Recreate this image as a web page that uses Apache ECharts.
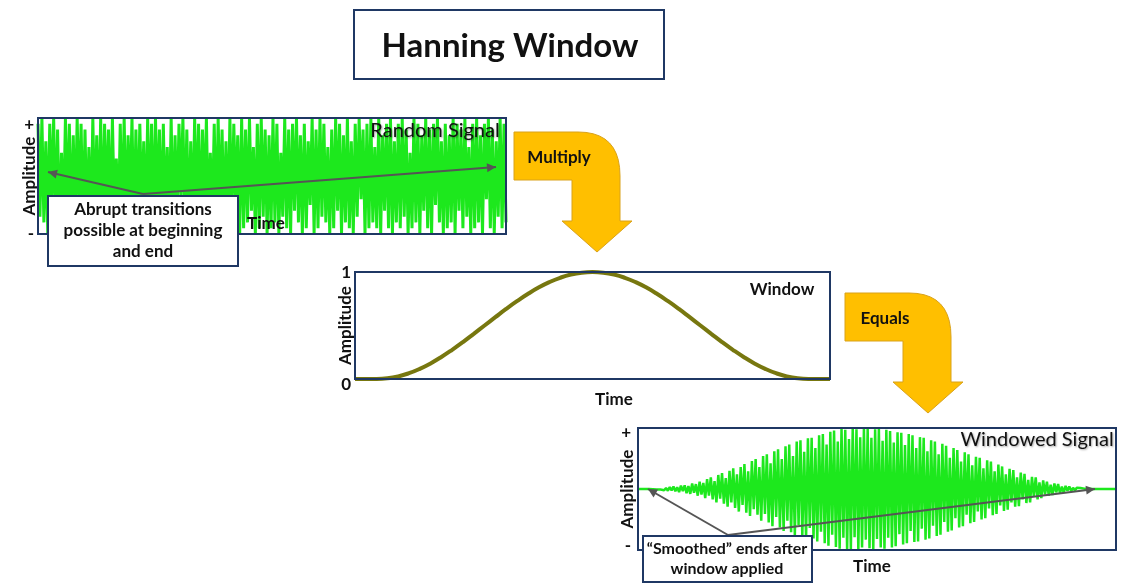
<!DOCTYPE html>
<html>
<head>
<meta charset="utf-8">
<script src="https://cdn.jsdelivr.net/npm/echarts@6/dist/echarts.min.js"></script>
<style>
html,body{margin:0;padding:0;background:#fff}
#main{width:1143px;height:587px}
</style>
</head>
<body>
<div id="main"></div>
<script>
// random signal (-10..10)
var randomSignal = [
  9,-7,10,-8,6,-10,9,-5,10,-9,8,-10,4,-9,10,-7,9,-10,7,-8,10,-6,9,-10,8,-9,5,-10,10,-8,
  7,-9,10,-10,9,-6,8,-9,10,-7,3,-10,9,-8,10,-9,7,-5,10,-10,8,-9,9,-7,6,-10,10,-8,9,-9,
  10,-6,8,-10,9,-8,5,-9,10,-10,7,-8,9,-4,10,-9,8,-10,6,-9,10,-7,9,-10,8,-6,10,-9,4,-8,
  9,-10,10,-7,8,-9,6,-10,10,-8,9,-5,7,-10,10,-9,8,-8,10,-6,5,-10,9,-9,10,-7,8,-10,7,-9,
  10,-8,9,-10,4,-7,10,-9,8,-10,9,-6,10,-8,7,-10,9,-9,6,-5,10,-10,8,-9,10,-7,9,-8,5,-10,
  8,-9,10,-6,9,-10,7,-8,10,-9,6,-10,9,-7,10,-4,8,-10,9,-9,10,-8,5,-9,10,-10,7,-6,9,-9,
  10,-10,6,-8,9,-9,10,-7,8,-10,4,-9,10,-8,9,-10,7,-6,10,-9,8,-10,9,-5,10,-8,6,-10,9,-9,
  7,-8,10,-10,9,-6,8,-9,10,-7,5,-10,9,-9,10,-8,7,-10,9,-4,10,-9,8,-10,6,-7,10,-9,9,-8
];
// hanning window curve (0..1)
var windowCurve = [
  0,0,0,0.006,0.024,0.054,0.095,0.146,0.206,0.273,0.345,0.422,0.5,0.578,0.655,0.727,0.794,0.854,0.905,0.946,0.976,0.994,
  1,
  0.994,0.976,0.946,0.905,0.854,0.794,0.727,0.655,0.578,0.5,0.422,0.345,0.273,0.206,0.146,0.095,0.054,0.024,0.006,0,0,0
];
// windowed signal (-10..10), flat zero line at both ends
var windowedSignal = [
  0,0,0,0,0,
  0,-0.02,0.05,-0.04,0.08,-0.1,0.12,-0.08,0.18,-0.2,0.15,-0.28,0.3,-0.22,0.4,-0.38,0.3,-0.5,0.55,-0.35,0.6,-0.7,0.5,-0.8,0.9,-0.6,0.8,-1.1,1.2,-0.9,
  1.0,-1.5,1.6,-1.1,1.9,-1.7,1.3,-2.2,2.3,-1.6,2.6,-2.4,1.8,-2.9,3.0,-2.2,3.4,-3.1,2.4,-3.7,3.6,-2.6,4.1,-3.9,2.9,-4.4,4.6,-3.3,4.9,-4.2,
  3.6,-5.2,5.4,-4.1,5.7,-5.5,4.2,-6.1,6.2,-4.6,6.5,-6.3,4.9,-6.9,7.0,-5.2,7.3,-7.1,5.4,-7.6,7.8,-5.9,8.0,-7.7,6.1,-8.2,8.3,-6.4,8.4,-8.1,
  6.7,-8.6,8.8,-7.0,9.0,-8.9,7.3,-9.3,9.4,-7.5,9.6,-9.5,7.8,-9.8,9.9,-8.0,9.7,-10,8.2,-9.9,10,-7.9,9.8,-10,8.5,-9.6,10,-8.3,9.9,-9.7,
  8.4,-10,9.8,-8.2,9.9,-9.6,7.9,-9.8,9.7,-8.0,9.5,-9.6,7.6,-9.4,9.3,-7.4,9.2,-9.1,7.2,-8.9,9.0,-6.9,8.8,-8.7,6.7,-8.6,8.5,-6.5,8.4,-8.3,
  6.2,-8.1,8.0,-6.0,7.8,-7.7,5.7,-7.5,7.4,-5.4,7.1,-7.0,5.1,-6.8,6.7,-4.8,6.4,-6.3,4.5,-6.1,6.0,-4.2,5.7,-5.6,3.9,-5.4,5.3,-3.7,5.1,-5.0,
  3.4,-4.8,4.7,-3.2,4.5,-4.3,2.9,-4.1,4.0,-2.7,3.7,-3.6,2.4,-3.4,3.3,-2.2,3.1,-2.9,1.9,-2.8,2.7,-1.7,2.5,-2.3,1.5,-2.2,2.0,-1.3,1.9,-1.7,
  1.1,-1.5,1.4,-0.9,1.2,-1.1,0.7,-1.0,0.9,-0.55,0.8,-0.7,0.4,-0.6,0.5,-0.3,0.4,-0.35,0.2,-0.25,0.2,-0.12,0.15,-0.1,0.06,-0.05,0.04,-0.02,0.01,0,
  0,0,0,0,0,0,0,0,0,0,0,0
];
var panelTitles = ['Random Signal', 'Window', 'Windowed Signal'];
var yTickLabels = [['-', '+'], ['0', '1'], ['-', '+']];

var FONT = 'Lato, "Open Sans", sans-serif';
var NAVY = '#1f3864';
var GREEN = '#1de81d';
var GOLD = '#ffbf00';
var LBL = 17;

// panel boxes
var boxes = [
  {left: 38, top: 118, width: 468, height: 116},
  {left: 355, top: 272, width: 475, height: 107},
  {left: 638, top: 428, width: 478, height: 122}
];

function idx(arr){ return arr.map(function(v, i){ return i; }); }

function arrowHead(x1, y1, x2, y2, s){
  var a = Math.atan2(y2 - y1, x2 - x1);
  return [[x2, y2],
    [x2 - s * Math.cos(a) + s * 0.5 * Math.sin(a), y2 - s * Math.sin(a) - s * 0.5 * Math.cos(a)],
    [x2 - s * Math.cos(a) - s * 0.5 * Math.sin(a), y2 - s * Math.sin(a) + s * 0.5 * Math.cos(a)]];
}

function txt(x, y, s, size, weight, extra){
  var st = {text: s, fontSize: size, fontWeight: weight || 'bold', fontFamily: FONT,
    fill: '#111', align: 'center', verticalAlign: 'middle'};
  if (extra) for (var k in extra) st[k] = extra[k];
  return {type: 'text', x: x, y: y, z: 120, style: st};
}

function boxRect(x, y, w, h, fill){
  return {type: 'rect', z: 110, shape: {x: x, y: y, width: w, height: h},
    style: {fill: fill || 'none', stroke: NAVY, lineWidth: 2}};
}

// bent "process" arrow, outline as polygon, curved corner sampled from a quadratic
function bentArrow(dx, dy, label, tx){
  var pts = [[514, 132]];
  for (var t = 0; t <= 1.0001; t += 0.1) {
    var x = (1-t)*(1-t)*578 + 2*(1-t)*t*620 + t*t*620;
    var y = (1-t)*(1-t)*132 + 2*(1-t)*t*132 + t*t*176;
    pts.push([x, y]);
  }
  pts = pts.concat([[620, 221], [632, 221], [597, 252], [562, 221], [572, 221], [572, 180], [514, 180]]);
  pts = pts.map(function(p){ return [p[0] + dx, p[1] + dy]; });
  return [
    {type: 'polygon', z: 105, shape: {points: pts}, style: {fill: GOLD, stroke: '#d9a21b', lineWidth: 1}},
    txt(tx + dx, 158 + dy, label, LBL, 'bold')
  ];
}

function pointer(from, to){
  return [
    {type: 'line', z: 108, shape: {x1: from[0], y1: from[1], x2: to[0], y2: to[1]},
      style: {stroke: '#555', lineWidth: 2}},
    {type: 'polygon', z: 108, shape: {points: arrowHead(from[0], from[1], to[0], to[1], 9)},
      style: {fill: '#555'}}
  ];
}

var graphics = [];
// title
graphics.push(boxRect(354, 10, 310, 69, '#fff'));
graphics.push(txt(510, 46, 'Hanning Window', 33, 'bold'));
// panel borders
boxes.forEach(function(b){ graphics.push(boxRect(b.left, b.top, b.width, b.height)); });
// panel titles
var shadow = {textShadowColor: 'rgba(0,0,0,0.35)', textShadowBlur: 2, textShadowOffsetX: 1, textShadowOffsetY: 1};
graphics.push(txt(435, 131, panelTitles[0], 20, 'normal', shadow));
graphics.push(txt(782, 290, panelTitles[1], LBL, 'bold'));
graphics.push(txt(1037, 440, panelTitles[2], 20, 'normal', shadow));
// time labels
graphics.push(txt(266, 224, 'Time', LBL, 'bold'));
graphics.push(txt(614, 400, 'Time', LBL, 'bold'));
graphics.push(txt(872, 567, 'Time', LBL, 'bold'));
// bent arrows
graphics = graphics.concat(bentArrow(0, 0, 'Multiply', 559));
graphics = graphics.concat(bentArrow(331, 161, 'Equals', 554));
// pointers
graphics = graphics.concat(pointer([143, 194], [48, 172]));
graphics = graphics.concat(pointer([143, 194], [496, 167]));
graphics = graphics.concat(pointer([728, 535], [648, 489]));
graphics = graphics.concat(pointer([728, 535], [1095, 489]));
// callouts
graphics.push(boxRect(48, 196, 190, 70, '#fff'));
graphics.push(txt(143, 231, 'Abrupt transitions\npossible at beginning\nand end', LBL, 'bold', {lineHeight: 21}));
graphics.push(boxRect(643, 536, 169, 46, '#fff'));
graphics.push(txt(727, 559, '\u201cSmoothed\u201d ends after\nwindow applied', LBL - 1, 'bold', {lineHeight: 20}));

// pad = [top padding of min label, bottom padding of min label, top padding of max label]
function yAxisFor(i, min, max, gap, margin, pad){
  var base = {color: '#111', fontWeight: 'bold', fontSize: LBL, fontFamily: FONT};
  return {
    gridIndex: i, type: 'value', min: min, max: max, interval: max - min,
    axisLine: {show: false}, axisTick: {show: false}, splitLine: {show: false},
    axisLabel: {
      margin: margin, color: '#111', fontWeight: 'bold', fontSize: LBL, fontFamily: FONT,
      formatter: function(v){ return v === min ? '{lo|' + yTickLabels[i][0] + '}' : '{hi|' + yTickLabels[i][1] + '}'; },
      rich: {
        lo: Object.assign({padding: [pad[0], 0, pad[1], 0]}, base),
        hi: Object.assign({padding: [pad[2], 0, 0, 0]}, base)
      }
    },
    name: 'Amplitude', nameLocation: 'middle', nameRotate: 90, nameGap: gap, nameMoveOverlap: false,
    nameTextStyle: {color: '#111', fontWeight: 'bold', fontSize: LBL, fontFamily: FONT}
  };
}

function xAxisFor(i, arr){
  return {gridIndex: i, type: 'category', boundaryGap: false, data: idx(arr), show: false};
}

var option = {
  backgroundColor: '#fff',
  animation: false,
  grid: boxes.map(function(b){
    return {left: b.left, top: b.top, width: b.width, height: b.height,
      show: true, backgroundColor: '#fff', borderWidth: 0};
  }),
  xAxis: [xAxisFor(0, randomSignal), xAxisFor(1, windowCurve), xAxisFor(2, windowedSignal)],
  yAxis: [
    yAxisFor(0, -10, 10, 0, 4, [0, 0, 14]),
    yAxisFor(1, 0, 1, 1, 4, [12, 0, 2]),
    yAxisFor(2, -10, 10, 2, 7, [0, 8, 10])
  ],
  series: [
    {type: 'line', xAxisIndex: 0, yAxisIndex: 0, data: randomSignal, symbol: 'none',
      lineStyle: {color: GREEN, width: 3}, areaStyle: {color: GREEN, opacity: 1}},
    {type: 'line', xAxisIndex: 1, yAxisIndex: 1, data: windowCurve, symbol: 'none', smooth: true,
      lineStyle: {color: '#77770f', width: 4}},
    {type: 'line', xAxisIndex: 2, yAxisIndex: 2, data: windowedSignal, symbol: 'none',
      lineStyle: {color: GREEN, width: 2.5}, areaStyle: {color: GREEN, opacity: 1}}
  ],
  graphic: {elements: graphics}
};

var chart = echarts.init(document.getElementById('main'));
chart.setOption(option);
</script>
</body>
</html>
